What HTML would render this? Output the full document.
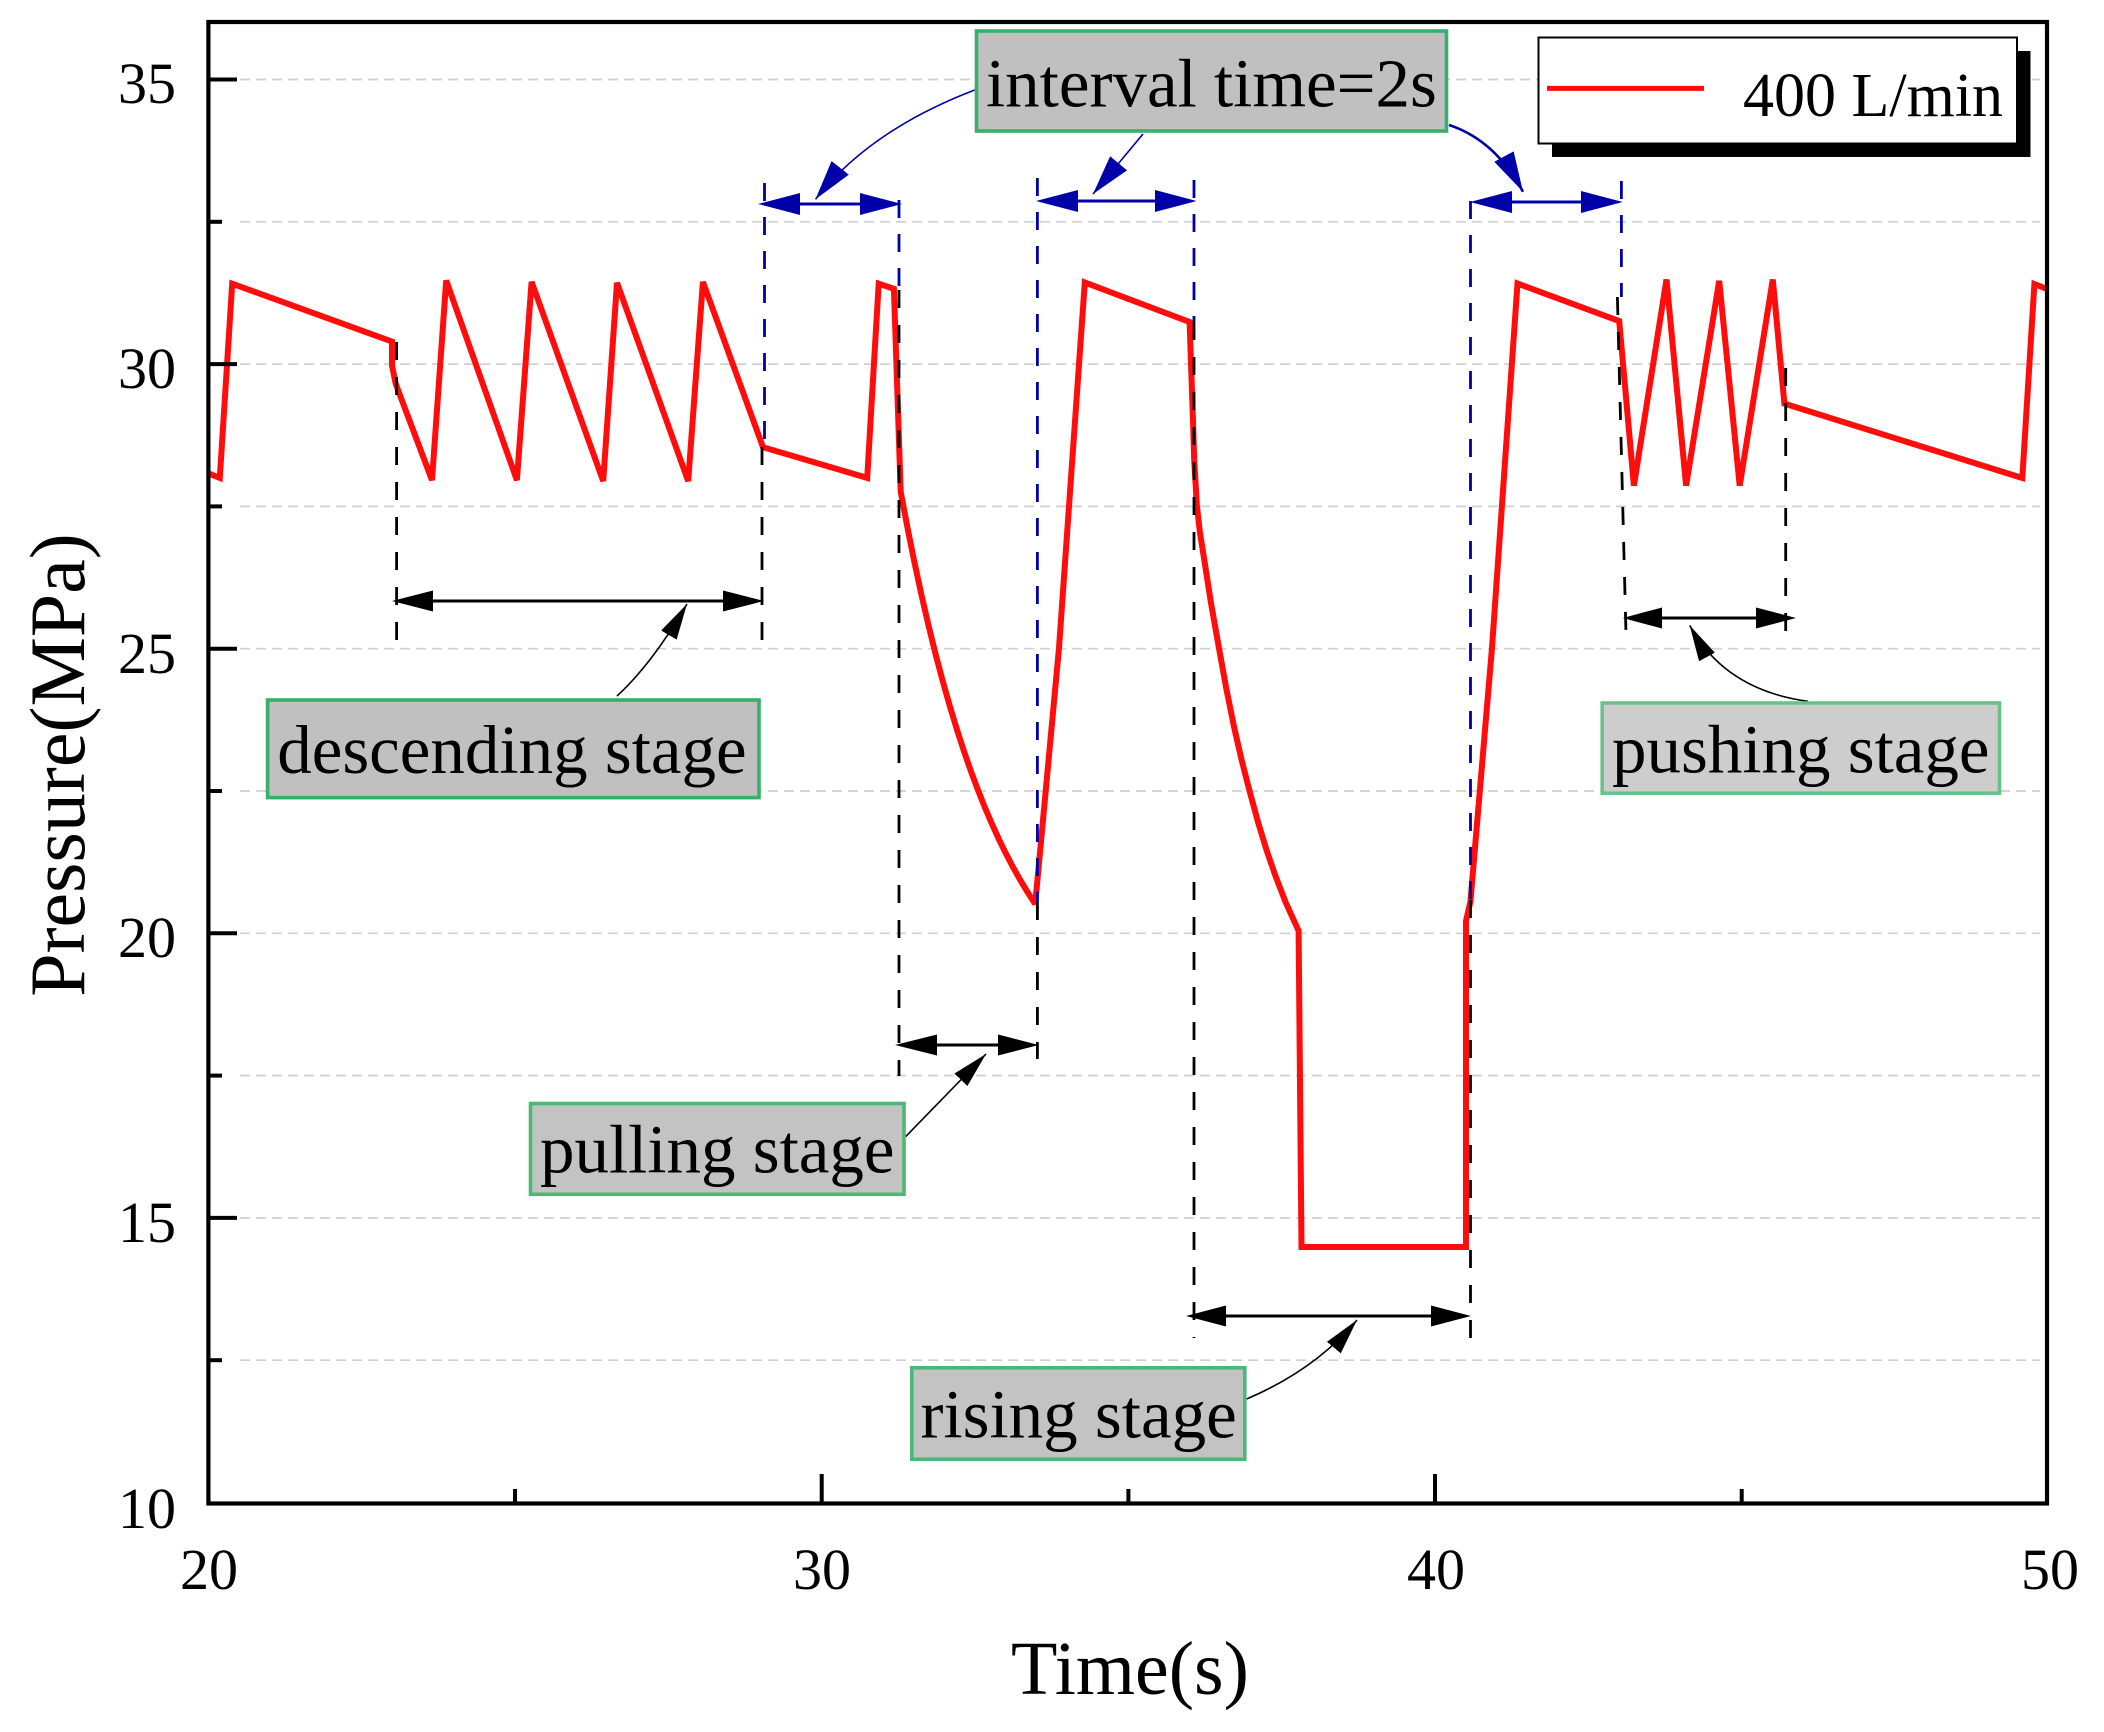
<!DOCTYPE html>
<html><head><meta charset="utf-8"><style>
html,body{margin:0;padding:0;background:#fff;}
svg{display:block;}
text{font-family:"Liberation Serif","Times New Roman",serif;fill:#000;}
</style></head><body>
<svg width="2104" height="1732" viewBox="0 0 2104 1732" xmlns="http://www.w3.org/2000/svg">
<defs>
<marker id="bh" viewBox="0 0 40 22" refX="40" refY="11" markerWidth="40" markerHeight="22" markerUnits="userSpaceOnUse" orient="auto"><path d="M0,0 L40,11 L0,22 z" fill="#0000a8"/></marker>
<marker id="kh" viewBox="0 0 36 18" refX="36" refY="9" markerWidth="36" markerHeight="18" markerUnits="userSpaceOnUse" orient="auto"><path d="M0,0 L36,9 L0,18 z" fill="#000"/></marker>
</defs>
<rect x="0" y="0" width="2104" height="1732" fill="#fff"/>

<!-- grid -->
<g stroke="#d0d0d0" stroke-width="1.7" stroke-dasharray="10 6">
<line x1="240" y1="1360.2" x2="2040" y2="1360.2"/>
<line x1="240" y1="1217.9" x2="2040" y2="1217.9"/>
<line x1="240" y1="1075.6" x2="2040" y2="1075.6"/>
<line x1="240" y1="933.3" x2="2040" y2="933.3"/>
<line x1="240" y1="791" x2="2040" y2="791"/>
<line x1="240" y1="648.7" x2="2040" y2="648.7"/>
<line x1="240" y1="506.4" x2="2040" y2="506.4"/>
<line x1="240" y1="364.1" x2="2040" y2="364.1"/>
<line x1="240" y1="221.8" x2="2040" y2="221.8"/>
<line x1="240" y1="79.5" x2="2040" y2="79.5"/>
</g>

<!-- red series -->
<path fill="none" stroke="#ff0d0d" stroke-width="6" stroke-linejoin="miter" stroke-miterlimit="2.5" d="M208.4,473.3 L219.8,477.9 L232.2,283.7 L392,341.6 L392,365.4 L395.7,383.8 L432,480.2 L446.2,280.5 L516.9,480.2 L531.6,281.9 L603.2,481.1 L617,282.8 L688.2,481.1 L702.9,281.9 L763,447.2 L867.2,477.9 L878.7,283.7 L893.9,288.8 L900.7,491.7 L907.7,528.8 L914.7,563.5 L921.7,596 L928.7,626.2 L935.7,654.6 L942.7,681 L949.7,705.7 L956.7,728.8 L963.7,750.4 L970.7,770.6 L977.7,789.4 L984.7,807 L991.7,823.4 L998.7,838.8 L1005.7,853.2 L1012.7,866.6 L1019.7,879.1 L1026.7,890.8 L1035.2,904 L1059,648 L1084.8,282.5 L1189.6,322 L1193.3,430 L1194.2,460 L1196.9,505.7 L1200,533 L1204.3,560 L1211,603 L1218.9,647.7 L1226.2,688 L1234,726.7 L1241.5,759.5 L1249.3,790 L1258,822 L1266.5,850 L1275.5,876 L1285.5,902 L1298.6,930.8 L1301.5,1247 L1466,1247 L1466,921 L1470.4,901.8 L1492,647.8 L1517.5,283.5 L1619.2,321 L1633.9,485.7 L1666.5,279.5 L1686.1,485.7 L1719.2,280.8 L1739.7,485.7 L1772.8,279.5 L1784.4,403.6 L2022.3,478 L2034.4,284 L2047,289"/>

<!-- blue dashed verticals -->
<g stroke="#0000a8" stroke-width="2.8" stroke-dasharray="18 16" fill="none">
<line x1="764.5" y1="183" x2="764.5" y2="447"/>
<line x1="899" y1="200" x2="899" y2="290"/>
<line x1="1037.4" y1="178" x2="1037.4" y2="902"/>
<line x1="1194" y1="180" x2="1194" y2="322"/>
<line x1="1470.5" y1="201" x2="1470.5" y2="900"/>
<line x1="1621.4" y1="181" x2="1621.4" y2="297"/>
</g>
<!-- black dashed verticals -->
<g stroke="#000" stroke-width="2.8" stroke-dasharray="18 17" fill="none">
<line x1="396.6" y1="342" x2="396.6" y2="648"/>
<line x1="762" y1="447" x2="762" y2="648"/>
<line x1="899" y1="290" x2="899" y2="1076"/>
<line x1="1037.4" y1="902" x2="1037.4" y2="1059"/>
<line x1="1194" y1="322" x2="1194" y2="1338"/>
<line x1="1470.5" y1="900" x2="1470.5" y2="1342"/>
<line x1="1617.4" y1="297" x2="1626" y2="634"/>
<line x1="1785.7" y1="368" x2="1785.7" y2="632"/>
</g>

<!-- black stage arrows -->
<g stroke="#000" stroke-width="3">
<line x1="400" y1="601" x2="756" y2="601"/>
<line x1="905" y1="1045" x2="1031" y2="1045"/>
<line x1="1194" y1="1316" x2="1463" y2="1316"/>
<line x1="1630" y1="618" x2="1788" y2="618"/>
</g>
<g fill="#000">
<polygon points="392,601 433,590.5 433,611.5"/>
<polygon points="764,601 723,590.5 723,611.5"/>
<polygon points="895,1045 937,1034.5 937,1055.5"/>
<polygon points="1038.6,1045 998,1034.5 998,1055.5"/>
<polygon points="1186,1316 1226,1305.5 1226,1326.5"/>
<polygon points="1471,1316 1431,1305.5 1431,1326.5"/>
<polygon points="1622.8,618 1662,607.5 1662,628.5"/>
<polygon points="1796,618 1756,607.5 1756,628.5"/>
</g>

<!-- blue interval arrows -->
<g stroke="#0000a8" stroke-width="3">
<line x1="765" y1="204" x2="895" y2="204"/>
<line x1="1043" y1="201" x2="1190" y2="201"/>
<line x1="1477" y1="202" x2="1616" y2="202"/>
</g>
<g fill="#0000a8">
<polygon points="758,204 800,193 800,215"/>
<polygon points="902,204 860,193 860,215"/>
<polygon points="1036,201 1078,190 1078,212"/>
<polygon points="1196.6,201 1155,190 1155,212"/>
<polygon points="1470,202 1512,191 1512,213"/>
<polygon points="1622.8,202 1581,191 1581,213"/>
</g>

<!-- interval pointers -->
<g fill="none" stroke="#0000a8">
<path d="M974.7,90 Q870,130 815.5,199.3" stroke-width="1.6" marker-end="url(#bh)"/>
<path d="M1143,134 L1093,194" stroke-width="1.6" marker-end="url(#bh)"/>
<path d="M1449,125 Q1495,140 1523,191.7" stroke-width="2.6" marker-end="url(#bh)"/>
</g>

<!-- stage pointers -->
<g fill="none" stroke="#000" stroke-width="1.6">
<path d="M617,696 Q652,664 687,604" marker-end="url(#kh)"/>
<path d="M905.7,1136.6 L986,1054" marker-end="url(#kh)"/>
<path d="M1246.6,1399 Q1315,1370 1357,1320" marker-end="url(#kh)"/>
<path d="M1808,701.3 Q1725,690 1689.7,625.4" marker-end="url(#kh)"/>
</g>

<!-- axes frame -->
<rect x="208.4" y="22" width="1838.6" height="1481.5" fill="none" stroke="#000" stroke-width="4.2"/>
<!-- y ticks -->
<g stroke="#000" stroke-width="4">
<line x1="208" y1="1217.9" x2="237" y2="1217.9"/>
<line x1="208" y1="933.3" x2="237" y2="933.3"/>
<line x1="208" y1="648.7" x2="237" y2="648.7"/>
<line x1="208" y1="364.1" x2="237" y2="364.1"/>
<line x1="208" y1="79.5" x2="237" y2="79.5"/>
<line x1="208" y1="1360.2" x2="222" y2="1360.2"/>
<line x1="208" y1="1075.6" x2="222" y2="1075.6"/>
<line x1="208" y1="791" x2="222" y2="791"/>
<line x1="208" y1="506.4" x2="222" y2="506.4"/>
<line x1="208" y1="221.8" x2="222" y2="221.8"/>
<!-- x ticks -->
<line x1="821.7" y1="1503.5" x2="821.7" y2="1474"/>
<line x1="1435" y1="1503.5" x2="1435" y2="1474"/>
<line x1="515" y1="1503.5" x2="515" y2="1489"/>
<line x1="1128.4" y1="1503.5" x2="1128.4" y2="1489"/>
<line x1="1741.7" y1="1503.5" x2="1741.7" y2="1489"/>
</g>

<!-- tick labels -->
<g font-size="58" text-anchor="end">
<text x="176" y="1528">10</text>
<text x="176" y="1242">15</text>
<text x="176" y="957">20</text>
<text x="176" y="673">25</text>
<text x="176" y="388">30</text>
<text x="176" y="103">35</text>
</g>
<g font-size="58" text-anchor="middle">
<text x="209" y="1589">20</text>
<text x="822" y="1589">30</text>
<text x="1436" y="1589">40</text>
<text x="2050" y="1589">50</text>
</g>

<!-- axis titles -->
<text x="1130" y="1694" font-size="76" text-anchor="middle">Time(s)</text>
<text transform="translate(84,765) rotate(-90)" font-size="78" text-anchor="middle">Pressure(MPa)</text>

<!-- legend -->
<rect x="1552" y="51" width="478.5" height="106" fill="#000"/>
<rect x="1538.5" y="37.5" width="478.5" height="106" fill="#fff" stroke="#000" stroke-width="2"/>
<line x1="1547" y1="88.4" x2="1704" y2="88.4" stroke="#ff0d0d" stroke-width="5"/>
<text x="1743" y="116" font-size="62">400 L/min</text>

<!-- annotation boxes -->
<rect x="976.5" y="31" width="470" height="100" fill="#c0c0c0" stroke="#36b06a" stroke-width="3.6"/>
<text x="986" y="106.7" font-size="69">interval time=2s</text>

<rect x="267.6" y="700" width="491.4" height="97.6" fill="#c0c0c0" stroke="#36b06a" stroke-width="3.6"/>
<text x="277.2" y="773" font-size="69">descending stage</text>

<rect x="530.5" y="1103.5" width="373.5" height="90.8" fill="#c3c3c3" stroke="#4cb878" stroke-width="3.6"/>
<text x="540" y="1172.5" font-size="69">pulling stage</text>

<rect x="911.8" y="1367.8" width="333" height="91.4" fill="#c3c3c3" stroke="#4cb878" stroke-width="3.6"/>
<text x="920.5" y="1437.6" font-size="69">rising stage</text>

<rect x="1602.2" y="703" width="397.3" height="90.2" fill="#cdcdcd" stroke="#6cc08b" stroke-width="3.6"/>
<text x="1612" y="772.5" font-size="69">pushing stage</text>
</svg>
</body></html>
